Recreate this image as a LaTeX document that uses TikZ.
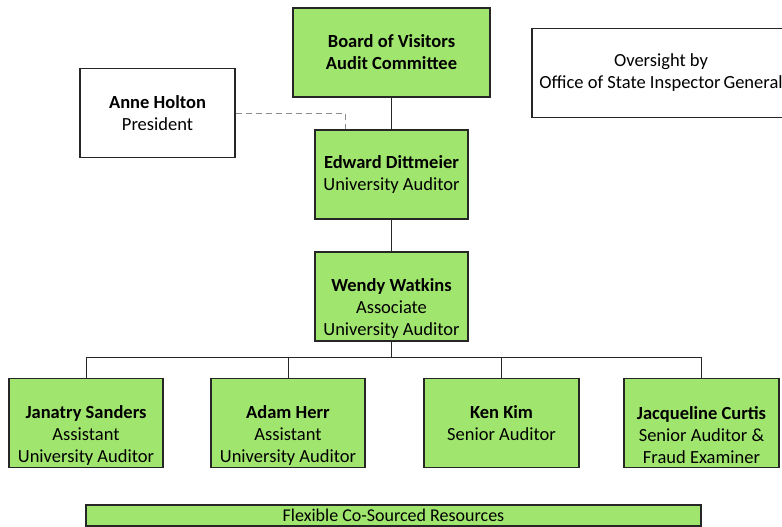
\documentclass[tikz,border=0pt]{standalone}
\usepackage{fontspec}
\setmainfont{Carlito}
\definecolor{boxgreen}{RGB}{160,229,110}
\definecolor{dashgray}{RGB}{140,140,140}
\begin{document}
\begin{tikzpicture}[x=1pt,y=-1pt,
    staff/.style={draw=black!85,line width=1.3pt,fill=boxgreen,minimum width=154pt,minimum height=89pt,
      align=center,inner sep=0pt,font=\fontsize{18.5}{22}\selectfont},
    plain/.style={staff,fill=white},
    link/.style={draw=black!85,line width=0.8pt}]
    \useasboundingbox (0,0) rectangle (782,527);
    \node[staff,minimum width=197pt] (board) at (391.5,52.5) {\textbf{Board of Visitors}\\\textbf{Audit Committee}};
    \node[plain,minimum width=258pt] (oversight) at (661,73) {Oversight by\\Office of State Inspector\,General};
    \node[plain,minimum width=155pt] (holton) at (157.5,113) {\textbf{Anne Holton}\\President};
    \node[staff,minimum width=153pt] (dittmeier) at (391.5,174.5) {\textbf{Edward Dittmeier}\\University Auditor};
    \node[staff,minimum width=153pt] (watkins) at (391.5,296.5) {\strut\\\textbf{Wendy Watkins}\\Associate\\University Auditor};
    \node[staff] (sanders) at (86,423) {\strut\\\textbf{Janatry Sanders}\\Assistant\\University Auditor};
    \node[staff] (herr) at (288,423) {\strut\\\textbf{Adam Herr}\\Assistant\\University Auditor};
    \node[staff,minimum width=155pt] (kim) at (501.5,423) {\textbf{Ken Kim}\\Senior Auditor};
    \node[staff,minimum width=155pt] (curtis) at (701.5,423) {\strut\\\textbf{Jacqueline Curtis}\\Senior Auditor \&\\Fraud Examiner};
    \node[staff,minimum width=615pt,minimum height=21pt,font=\fontsize{18}{18}\selectfont] (cosourced) at (393.5,515.5) {Flexible Co-Sourced Resources};
    \coordinate (bus) at (391.5,357);
    % reporting lines
    \draw[link] (board) -- (dittmeier);
    \draw[link] (dittmeier) -- (watkins);
    \draw[link] (watkins) -- (bus);
    \foreach \n in {sanders,herr,kim,curtis}
        \draw[link] (bus) -| (\n.north);
    \draw[dashgray,line width=1pt,dash pattern=on 6pt off 4pt] (holton.east) -| ([xshift=-46.5pt]dittmeier.north);
\end{tikzpicture}
\end{document}
